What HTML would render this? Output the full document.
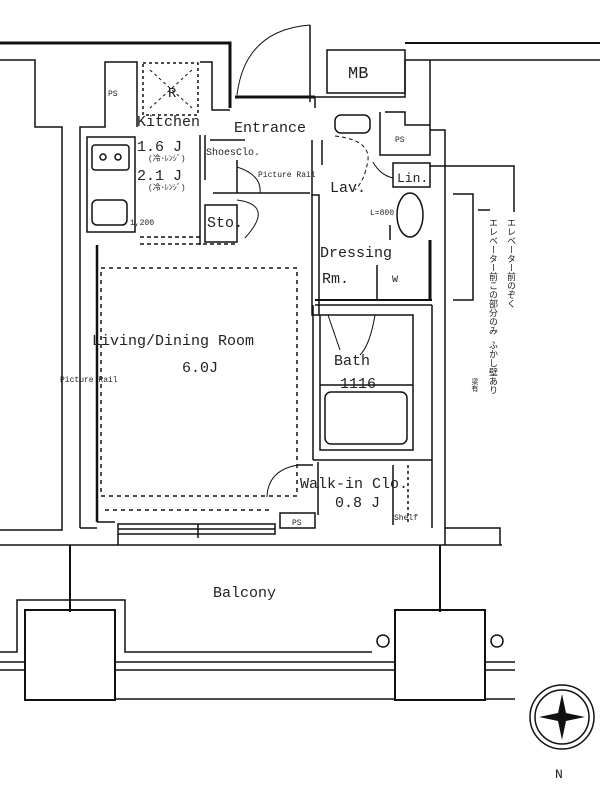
<!DOCTYPE html>
<html><head><meta charset="utf-8"><style>
html,body{margin:0;padding:0;background:#fff;}
svg{display:block;}
text{font-family:"Liberation Mono","Noto Sans CJK JP",monospace;fill:#222;}
</style></head><body>
<svg width="600" height="800" viewBox="0 0 600 800" xmlns="http://www.w3.org/2000/svg">
<g fill="none" stroke="#111" stroke-width="1.5">
<polyline points="0,43 230,43 230,108" stroke-width="3"/>
<polyline points="0,60 35,60 35,127 62,127 62,530 0,530"/>
<polyline points="80,528 80,127 105,127 105,62 137,62 137,127"/>
<polyline points="200,62 212,62 212,110 230,110"/>
<line x1="310" y1="25" x2="310" y2="102"/>
<path d="M237,95 Q245,30 310,25" stroke-width="1"/>
<line x1="235" y1="97" x2="315" y2="97" stroke-width="3"/>
<line x1="315" y1="97" x2="315" y2="108"/>
<rect x="327" y="50" width="78" height="43"/>
<polyline points="405,43 600,43" stroke-width="2"/>
<polyline points="315,97 405,97 405,60 600,60"/>
<polyline points="380,112 380,155 430,155 430,130 445,130 445,545"/>
<polyline points="385,112 405,112 405,125 430,125"/>
<polyline points="430,60 430,130"/>
<rect x="87" y="137" width="48" height="95"/>
<rect x="92" y="145" width="37" height="25" rx="3"/>
<circle cx="103" cy="157" r="3"/><circle cx="118" cy="157" r="3"/>
<rect x="92" y="200" width="35" height="25" rx="5"/>
<rect x="143" y="63" width="55" height="52" stroke-dasharray="3,3"/>
<line x1="150" y1="70" x2="192" y2="108" stroke-dasharray="3,3" stroke-width="1"/>
<line x1="192" y1="70" x2="150" y2="108" stroke-dasharray="3,3" stroke-width="1"/>
<line x1="140" y1="237" x2="200" y2="237" stroke-dasharray="4,3"/>
<line x1="140" y1="244" x2="235" y2="244" stroke-dasharray="4,3"/>
<line x1="200" y1="135" x2="200" y2="245"/>
<line x1="205" y1="135" x2="205" y2="180"/>
<polyline points="210,140 245,140"/>
<polyline points="213,193 310,193" />
<rect x="205" y="205" width="32" height="37"/>
<path d="M237,167 Q262,175 260,193" stroke-width="1"/>
<path d="M237,200 Q275,205 245,238" stroke-width="1"/>
<line x1="237" y1="160" x2="237" y2="193"/>
<line x1="312" y1="140" x2="312" y2="195"/>
<rect x="312" y="195" width="7" height="120"/>
<line x1="322" y1="140" x2="322" y2="165"/>
<rect x="335" y="115" width="35" height="18" rx="6"/>
<path d="M335,136 Q370,140 368,160 Q365,180 355,190" stroke-dasharray="4,3" stroke-width="1"/>
<rect x="393" y="163" width="37" height="24"/>
<path d="M373,162 Q380,175 393,178" stroke-width="1"/>
<ellipse cx="410" cy="215" rx="13" ry="22"/>
<line x1="390" y1="225" x2="390" y2="240"/>
<line x1="430" y1="240" x2="430" y2="300" stroke-width="3"/>
<line x1="377" y1="265" x2="377" y2="300"/>
<line x1="315" y1="300" x2="432" y2="300" stroke-width="2"/>
<line x1="315" y1="305" x2="432" y2="305"/>
<line x1="313" y1="305" x2="313" y2="460"/>
<rect x="320" y="315" width="93" height="135"/>
<line x1="320" y1="385" x2="413" y2="385"/>
<rect x="325" y="392" width="82" height="52" rx="6"/>
<path d="M328,315 L340,350 M375,315 Q370,345 360,355" stroke-width="1"/>
<line x1="313" y1="460" x2="432" y2="460"/>
<line x1="432" y1="305" x2="432" y2="528"/>
<line x1="318" y1="462" x2="318" y2="515"/>
<line x1="393" y1="465" x2="393" y2="525"/>
<line x1="408" y1="465" x2="408" y2="525" stroke-dasharray="3,3"/>
<path d="M267,497 Q268,470 298,465" stroke-width="1"/>
<line x1="298" y1="465" x2="313" y2="465"/>
<rect x="280" y="513" width="35" height="15"/>
<line x1="97" y1="245" x2="97" y2="522" stroke-width="2.5"/>
<rect x="101" y="268" width="196" height="228" stroke-dasharray="4,4"/>
<line x1="105" y1="510" x2="270" y2="510" stroke-dasharray="4,4"/>
<polyline points="97,522 115,522 M275,522 280,522 M318,525 430,525"/>
<rect x="118" y="524" width="157" height="10"/>
<line x1="118" y1="529" x2="275" y2="529"/>
<line x1="198" y1="524" x2="198" y2="538"/>
<polyline points="118,534 118,545 M275,534 275,545"/>
<line x1="80" y1="528" x2="97" y2="528"/>
<polyline points="445,528 500,528 500,545"/>
<line x1="0" y1="545" x2="502" y2="545"/>
<line x1="70" y1="545" x2="70" y2="612" stroke-width="2"/>
<line x1="440" y1="545" x2="440" y2="612" stroke-width="2"/>
<rect x="25" y="610" width="90" height="90" stroke-width="2"/>
<polyline points="0,652 17,652 17,600 125,600 125,652 372,652 M 385,652 385,600 493,600 493,645"/>
<rect x="395" y="610" width="90" height="90" stroke-width="2"/>
<line x1="0" y1="662" x2="25" y2="662"/><line x1="0" y1="670" x2="25" y2="670"/>
<line x1="115" y1="662" x2="395" y2="662"/><line x1="115" y1="670" x2="395" y2="670"/>
<line x1="485" y1="662" x2="515" y2="662"/><line x1="485" y1="670" x2="515" y2="670"/>
<line x1="115" y1="699" x2="395" y2="699"/><line x1="485" y1="699" x2="515" y2="699"/>
<circle cx="383" cy="641" r="6"/><circle cx="497" cy="641" r="6"/>
<polyline points="430,166 514,166 514,212"/>
<polyline points="453,194 473,194 473,300 453,300"/>
<polyline points="478,210 490,210"/>
<circle cx="562" cy="717" r="32"/>
<circle cx="562" cy="717" r="27"/>
</g>
<path d="M562,694 L566,713 L585,717 L566,721 L562,740 L558,721 L539,717 L558,713 Z" fill="#111"/>
<text x="555" y="778" font-size="13">N</text>
<g font-size="15">
<text x="137" y="126">Kitchen</text>
<text x="234" y="132">Entrance</text>
<text x="137" y="151">1.6 J</text>
<text x="137" y="180">2.1 J</text>
<text x="92" y="345" font-size="15">Living/Dining Room</text>
<text x="182" y="372">6.0J</text>
<text x="330" y="192">Lav.</text>
<text x="320" y="257">Dressing</text>
<text x="322" y="283">Rm.</text>
<text x="334" y="365">Bath</text>
<text x="340" y="388">1116</text>
<text x="300" y="488">Walk-in Clo.</text>
<text x="335" y="507">0.8 J</text>
<text x="213" y="597" font-size="15">Balcony</text>
<text x="207" y="227">Sto.</text>
<text x="397" y="182" font-size="13">Lin.</text>
<text x="348" y="78" font-size="17">MB</text>
</g>
<g font-size="8">
<text x="206" y="155" font-size="10">ShoesClo.</text>
<text x="258" y="177">Picture Rail</text>
<text x="60" y="382">Picture Rail</text>
<text x="108" y="96">PS</text>
<text x="395" y="142">PS</text>
<text x="292" y="525">PS</text>
<text x="394" y="520">Shelf</text>
<text x="130" y="225">1,200</text>
<text x="370" y="215">L=800</text>
<text x="392" y="282" font-size="10">W</text>
<text x="168" y="97" font-size="14">R</text>
</g>
<g font-size="8">
<text x="148" y="161">(冷･ﾚﾝｼﾞ)</text>
<text x="148" y="190">(冷･ﾚﾝｼﾞ)</text>
</g>
<g font-size="9">
<text x="510" y="218" style="writing-mode:vertical-rl">エレベーター前のぞく</text>
<text x="492" y="218" style="writing-mode:vertical-rl">エレベーター前この部分のみ ふかし壁あり</text>
<text x="474" y="378" style="writing-mode:vertical-rl" font-size="7">梁有</text>
</g>
</svg>
</body></html>
